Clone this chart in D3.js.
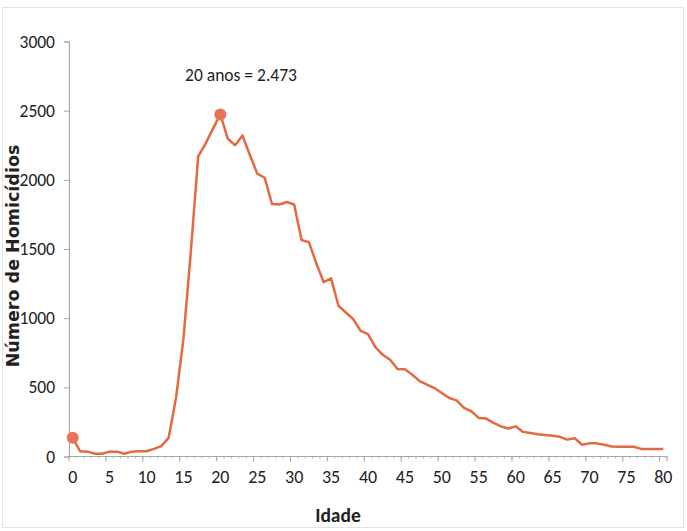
<!DOCTYPE html>
<html><head><meta charset="utf-8">
<script src="https://cdn.jsdelivr.net/npm/d3@7"></script>
<style>
body{margin:0;background:#fff;}
text{font-family:"Carlito","Liberation Sans Narrow","Open Sans",sans-serif;}
</style></head>
<body><svg id="c" width="687" height="531"></svg>
<script>
const ages = d3.range(0, 81);
const homicides = [135,38,35,20,20,35,35,20,35,38,38,55,75,135,425,850,1480,2170,2262,2370,2473,2298,2250,2320,2180,2045,2015,1825,1822,1840,1822,1565,1550,1396,1260,1288,1090,1041,993,908,885,791,735,699,632,630,591,545,520,495,459,423,406,351,327,279,274,243,218,202,218,178,170,161,156,150,142,122,132,85,95,95,85,72,70,70,70,55,55,55,55];
const yTicks = [0,500,1000,1500,2000,2500,3000];
const xTickLabels = d3.range(0, 81, 5);
const highlightAges = [0, 20];
const annotation = "20 anos = 2.473";

const svg = d3.select("#c");
svg.append("rect").attr("x",2.5).attr("y",7.5).attr("width",681).attr("height",520)
  .attr("fill","#fff").attr("stroke","#e3e3e3");

const x = d3.scaleLinear().domain([-0.5, 80.5]).range([69, 667]);
const y = d3.scaleLinear().domain([0, 3000]).range([456.5, 41.5]);
const axisColor = "#a6a6a6";
const font = '"Carlito","Liberation Sans Narrow","Open Sans",sans-serif';

// y axis
const ya = svg.append("g").attr("transform","translate(69,0)")
  .call(d3.axisLeft(y).tickValues(yTicks).tickSize(5).tickPadding(9).tickFormat(d3.format("d")));
ya.select(".domain").attr("stroke",axisColor).attr("stroke-width",1.2);
ya.selectAll(".tick line").attr("stroke",axisColor);
ya.selectAll(".tick text").attr("font-size",17.5).attr("fill","#222").style("font-family",font);

// x axis: ticks at category boundaries
const xa = svg.append("g").attr("transform","translate(0,456.5)");
xa.append("line").attr("x1",69).attr("x2",667).attr("stroke",axisColor).attr("stroke-width",1.2);
xa.selectAll("line.minor").data(d3.range(0,82)).join("line").attr("class","minor")
  .attr("x1",d=>x(d-0.5)).attr("x2",d=>x(d-0.5)).attr("y1",0).attr("y2",2)
  .attr("stroke",axisColor).attr("stroke-width",0.8);
xa.selectAll("line.major").data(xTickLabels.concat([81])).join("line").attr("class","major")
  .attr("x1",d=>x(d-0.5)).attr("x2",d=>x(d-0.5)).attr("y1",0).attr("y2",5)
  .attr("stroke",axisColor);
xa.selectAll("text").data(xTickLabels).join("text")
  .attr("x",d=>x(d)).attr("y",26).attr("text-anchor","middle")
  .attr("font-size",18).attr("fill","#222").text(d=>d);

// line
const line = d3.line().x((d,i)=>x(ages[i])).y(d=>y(d));
svg.append("path").datum(homicides).attr("d",line)
  .attr("fill","none").attr("stroke","#e6683f").attr("stroke-width",2.5)
  .attr("stroke-linejoin","round");

svg.selectAll("circle.hl").data(highlightAges).join("circle").attr("class","hl")
  .attr("cx",d=>x(d)).attr("cy",d=>y(homicides[d])).attr("r",6)
  .attr("fill","#e8735a");

svg.append("text").attr("x",241).attr("y",81).attr("text-anchor","middle")
  .attr("font-size",17.5).attr("fill","#222").text(annotation);

svg.append("text").attr("transform","translate(19,256) rotate(-90)")
  .attr("text-anchor","middle").attr("font-size",17.5).attr("font-weight","bold")
  .style("font-family",'"DejaVu Sans",sans-serif').attr("fill","#222")
  .text("Número de Homicídios");

svg.append("text").attr("x",338).attr("y",522).attr("text-anchor","middle")
  .attr("font-size",19.5).attr("font-weight","bold").attr("fill","#222").text("Idade");
</script></body></html>
